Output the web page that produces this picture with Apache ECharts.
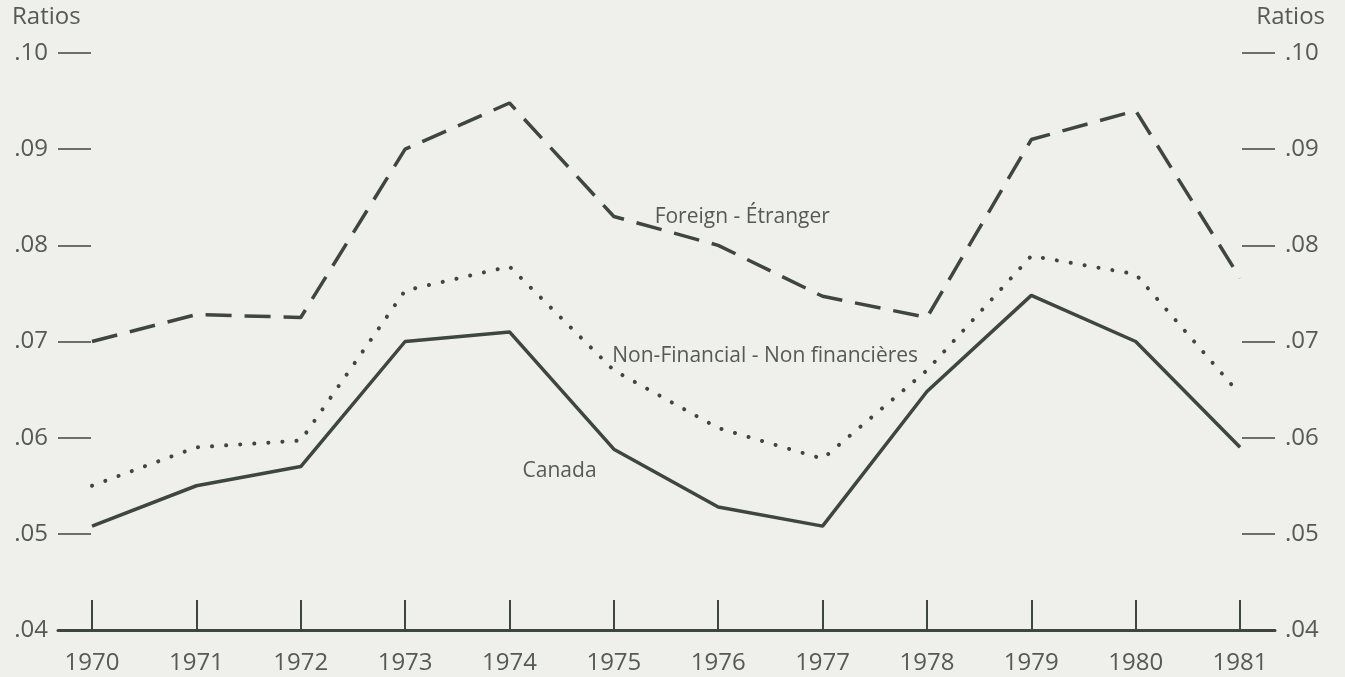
<!DOCTYPE html>
<html><head><meta charset="utf-8">
<script src="https://cdn.jsdelivr.net/npm/echarts@6/dist/echarts.min.js"></script>
<style>html,body{margin:0;padding:0;background:#efefec;}#c{width:1345px;height:677px;}</style>
</head><body><div id="c"></div>
<script>
const years = [1970,1971,1972,1973,1974,1975,1976,1977,1978,1979,1980,1981];
const foreign = [0.0700,0.0728,0.0725,0.0900,0.0948,0.0830,0.0800,0.0747,0.0725,0.0910,0.0940,0.0766];
const nonFinancial = [0.0550,0.0590,0.0597,0.0753,0.0778,0.0670,0.0610,0.0578,0.0670,0.0789,0.0770,0.0645];
const canada = [0.0508,0.0550,0.0570,0.0700,0.0710,0.0588,0.0528,0.0508,0.0648,0.0748,0.0700,0.0590];
const yTicks = [0.04,0.05,0.06,0.07,0.08,0.09,0.10];
const labels = {foreign:'Foreign - Étranger', nonFinancial:'Non-Financial - Non financières', canada:'Canada'};

const FONT = 'Open Sans';
const INK = '#3f4640';
const TXT = '#555a56';
const pair = a => years.map((y,i)=>[y,a[i]]);
const fmt = v => '.' + Math.round(v*100).toString().padStart(2,'0');

function yAxis(pos){
  return {
    type:'value', position:pos, min:0.04, max:0.10, interval:0.01,
    axisLine:{show:false}, splitLine:{show:false},
    axisTick:{show:true, inside:true, length:33, lineStyle:{color:INK, width:1.5}},
    axisLabel:{formatter:fmt, color:TXT, fontFamily:FONT, fontSize:24, margin:10}
  };
}
function textPoint(name, coord){
  return {markPoint:{symbol:'rect', symbolSize:[2,2], silent:true,
    itemStyle:{color:'rgba(0,0,0,0)'},
    label:{show:true, position:'inside', color:TXT, fontFamily:FONT, fontSize:21},
    data:[{coord:coord, value:name, label:{formatter:name}}]}};
}

const chart = echarts.init(document.getElementById('c'));
chart.setOption({
  backgroundColor:'#efefec',
  animation:false,
  grid:{left:58, right:70, top:53, bottom:47},
  xAxis:{
    type:'value', min:1969.674, max:1981.335,
    splitLine:{show:false},
    axisLine:{show:true, lineStyle:{color:INK, width:3}},
    axisTick:{show:true, inside:true, length:30, customValues:years, lineStyle:{color:INK, width:2}},
    axisLabel:{customValues:years, color:TXT, fontFamily:FONT, fontSize:24, margin:21, formatter:v=>String(v)}
  },
  yAxis:[yAxis('left'), yAxis('right')],
  graphic:[
    {type:'text', left:12, top:5, style:{text:'Ratios', fill:TXT, fontFamily:FONT, fontSize:24}},
    {type:'text', right:20, top:5, style:{text:'Ratios', fill:TXT, fontFamily:FONT, fontSize:24}}
  ],
  series:[
    Object.assign({type:'line', data:pair(foreign), symbol:'none',
      lineStyle:{color:INK, width:3.5, type:[26,13]}}, textPoint(labels.foreign,[1976.23,0.0829])),
    Object.assign({type:'line', data:pair(nonFinancial), symbol:'none',
      lineStyle:{color:INK, width:4, type:[0.1,14], cap:'round'}}, textPoint(labels.nonFinancial,[1976.45,0.0685])),
    Object.assign({type:'line', data:pair(canada), symbol:'none',
      lineStyle:{color:INK, width:3.5}}, textPoint(labels.canada,[1974.48,0.0565]))
  ]
});
</script></body></html>
